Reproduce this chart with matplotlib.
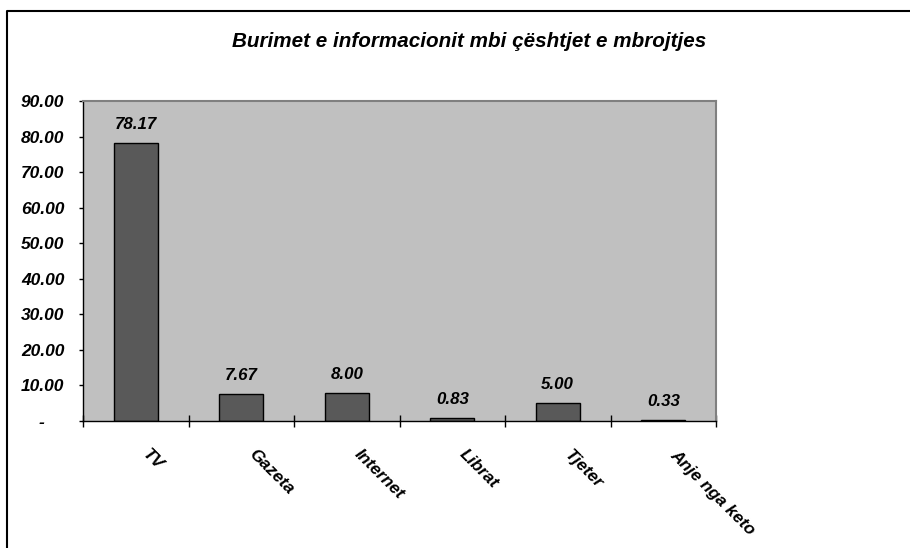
import numpy as np
import matplotlib
matplotlib.use("Agg")
import matplotlib.pyplot as plt
from matplotlib.lines import Line2D
from matplotlib.transforms import offset_copy

# data: sources of information on defence issues (%)
categories = ["TV", "Gazeta", "Internet", "Librat", "Tjeter", "Anje nga keto"]
values = [78.17, 7.67, 8.00, 0.83, 5.00, 0.33]
y_ticks = [0, 10, 20, 30, 40, 50, 60, 70, 80, 90]
title = "Burimet e informacionit mbi çështjet e mbrojtjes"

plt.rcParams['font.family'] = ['Liberation Sans', 'DejaVu Sans']
font = dict(weight="bold", style="italic")

W, H = 910, 548
fig = plt.figure(figsize=(W / 100, H / 100), dpi=100)
fig.patch.set_facecolor("white")

# plot area in pixels: x 83..716, y 101..421
ax = fig.add_axes([83 / W, 1 - 421 / H, (716 - 83) / W, (421 - 101) / H])
ax.set_facecolor("#c0c0c0")

x = np.arange(len(categories))
bars = ax.bar(x, values, width=0.42, color="#595959", edgecolor="black", linewidth=1.0)

ax.set_xlim(-0.5, len(categories) - 0.5)
ax.set_ylim(0, 90)

# value labels above the bars
for xi, v in zip(x, values):
    ax.annotate("%.2f" % v, (xi, v), xytext=(0, 10), textcoords="offset points",
                ha="center", va="baseline", fontsize=12.2, color="black", **font)

# y axis
ax.set_yticks(y_ticks)
ax.set_yticklabels(["%.2f" % t if t else "-    " for t in y_ticks], fontsize=12.5, **font)
ax.tick_params(axis="y", direction="out", length=3, width=1, pad=10.5, colors="black")

# x axis: tick marks on category boundaries, labels at centers
ax.set_xticks(np.arange(len(categories) + 1) - 0.5)
ax.set_xticklabels([])
ax.tick_params(axis="x", direction="inout", length=9, width=1, colors="black")
ax.set_xticks(x, minor=True)
ax.tick_params(axis="x", which="minor", length=0)
ax.set_xticklabels([], minor=True)

trans = offset_copy(ax.get_xaxis_transform(), fig=fig, x=15, y=-26, units="dots")
for xi, name in zip(x, categories):
    ax.text(xi, 0, name, transform=trans, rotation=-45, rotation_mode="anchor",
            ha="left", va="top", fontsize=12.4, **font)

for side in ["left", "bottom"]:
    ax.spines[side].set_color("black")
    ax.spines[side].set_linewidth(1.0)
for side in ["top", "right"]:
    ax.spines[side].set_color("#808080")
    ax.spines[side].set_linewidth(1.5)

fig.text(469 / W, 1 - 47 / H, title, ha="center", va="baseline", fontsize=14.9, **font)

# chart frame
fig.add_artist(Line2D([7 / W, 7 / W, 1], [0, 1 - 11 / H, 1 - 11 / H],
                      transform=fig.transFigure, color="black", linewidth=1.5))

fig.savefig("out.png", dpi=100)
